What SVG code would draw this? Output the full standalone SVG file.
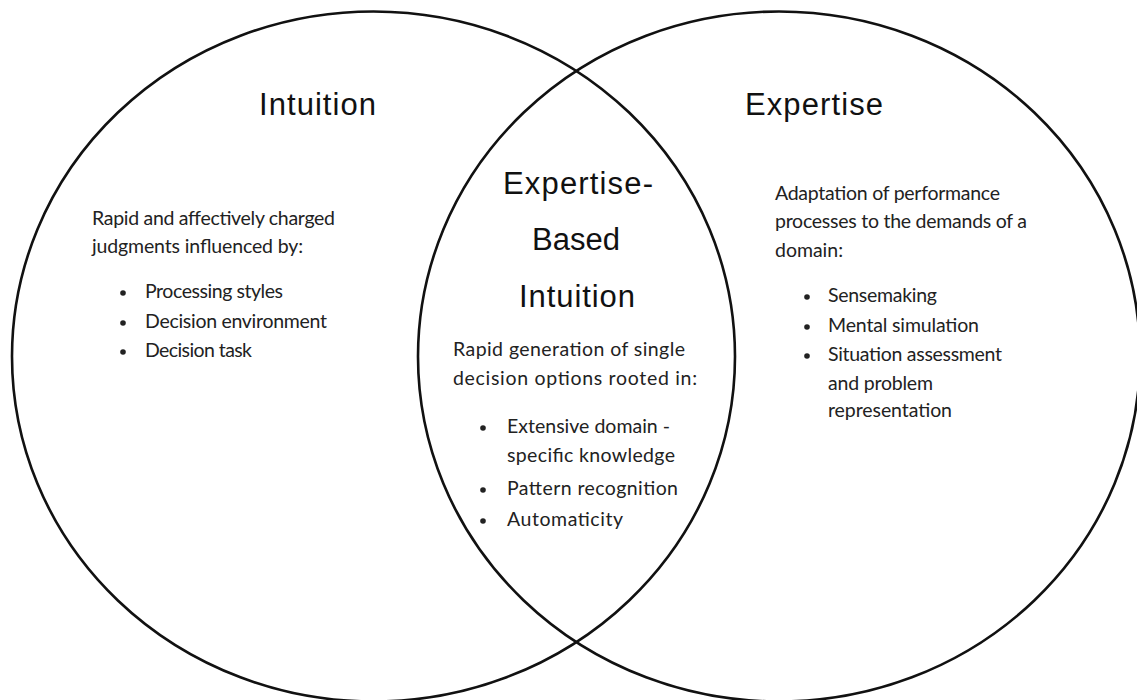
<svg xmlns="http://www.w3.org/2000/svg" width="1137" height="700" viewBox="0 0 1137 700">
<style>
.ring{fill:none;stroke:#111;stroke-width:2.6}
.title{font-family:"Liberation Sans",Arial,sans-serif;font-size:31px;fill:#111}
.body{font-family:Lato,"Open Sans",sans-serif;font-size:19.5px;fill:#222}
.dot{fill:#222}
</style>
<rect width="1137" height="700" fill="#fff"/>
<g id="intuition">
<ellipse class="ring" cx="373.5" cy="356.5" rx="361.5" ry="345"/>
<text class="title" x="259" y="115" textLength="117">Intuition</text>
<text class="body" x="92" y="225" textLength="243">Rapid and affectively charged</text>
<text class="body" x="92" y="253" textLength="211">judgments influenced by:</text>
<circle class="dot" cx="123" cy="293" r="2.8"/>
<text class="body" x="145" y="298" textLength="138">Processing styles</text>
<circle class="dot" cx="123" cy="323" r="2.8"/>
<text class="body" x="145" y="328" textLength="182">Decision environment</text>
<circle class="dot" cx="123" cy="352" r="2.8"/>
<text class="body" x="145" y="357" textLength="107">Decision task</text>
</g>
<g id="expertise">
<ellipse class="ring" cx="779" cy="356.5" rx="361" ry="345"/>
<text class="title" x="745" y="115" textLength="138">Expertise</text>
<text class="body" x="775" y="200" textLength="225">Adaptation of performance</text>
<text class="body" x="775" y="228" textLength="252">processes to the demands of a</text>
<text class="body" x="775" y="257" textLength="68">domain:</text>
<circle class="dot" cx="807" cy="297" r="2.8"/>
<text class="body" x="828" y="302" textLength="109">Sensemaking</text>
<circle class="dot" cx="807" cy="327" r="2.8"/>
<text class="body" x="828" y="332" textLength="151">Mental simulation</text>
<circle class="dot" cx="807" cy="356" r="2.8"/>
<text class="body" x="828" y="361" textLength="174">Situation assessment</text>
<text class="body" x="828" y="390" textLength="105">and problem</text>
<text class="body" x="828" y="417" textLength="124">representation</text>
</g>
<g id="expertise-based-intuition">
<text class="title" x="503" y="194" textLength="150">Expertise-</text>
<text class="title" x="532" y="250" textLength="88">Based</text>
<text class="title" x="519" y="307" textLength="116">Intuition</text>
<text class="body" x="453" y="356" textLength="232">Rapid generation of single</text>
<text class="body" x="453" y="385" textLength="244">decision options rooted in:</text>
<circle class="dot" cx="483" cy="428" r="2.8"/>
<text class="body" x="507" y="433" textLength="163">Extensive domain -</text>
<text class="body" x="507" y="462" textLength="168">specific knowledge</text>
<circle class="dot" cx="483" cy="490" r="2.8"/>
<text class="body" x="507" y="495" textLength="171">Pattern recognition</text>
<circle class="dot" cx="483" cy="521" r="2.8"/>
<text class="body" x="507" y="526" textLength="116">Automaticity</text>
</g>
<g id="connectors"/>
</svg>
